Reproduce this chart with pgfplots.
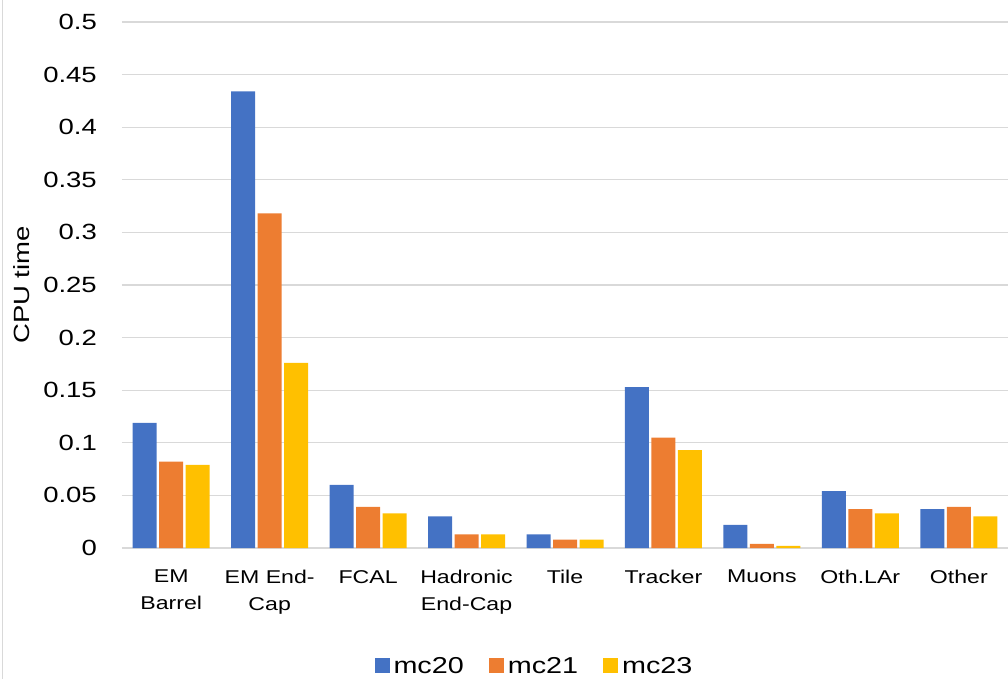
\documentclass[border=0pt]{standalone}
\usepackage{fontspec}
\setmainfont{Liberation Sans}[FakeStretch=1.25]
\usepackage{pgfplots}
\usepackage{pgfplotstable}
\pgfplotsset{compat=1.18}
\definecolor{cBlue}{HTML}{4472C4}
\definecolor{cOrange}{HTML}{ED7D31}
\definecolor{cYellow}{HTML}{FFC000}
\definecolor{cGrid}{HTML}{D9D9D9}
\pgfplotstableread{
x mcA mcB mcC
0 0.119 0.082 0.079
1 0.434 0.318 0.176
2 0.060 0.039 0.033
3 0.030 0.013 0.013
4 0.013 0.008 0.008
5 0.153 0.105 0.093
6 0.022 0.004 0.002
7 0.054 0.037 0.033
8 0.037 0.039 0.030
}\datatable
\begin{document}
\begin{tikzpicture}
\path[use as bounding box] (-122pt,-131pt) rectangle (886pt,548pt);
\draw[color=cGrid, line width=1.2pt] (-119.5pt,-131pt) -- (-119.5pt,548pt);
\begin{axis}[
  at={(0pt,0pt)}, anchor=south west,
  scale only axis, width=886pt, height=526pt,
  xmin=-0.5, xmax=8.5, ymin=0, ymax=0.5,
  axis lines*=left,
  y axis line style={draw=none},
  x axis line style={color=cGrid, line width=1.5pt},
  major tick length=0pt,
  ymajorgrids, grid style={color=cGrid, line width=1.3pt},
  ytick={0,0.05,0.1,0.15,0.2,0.25,0.3,0.35,0.4,0.45,0.5},
  yticklabels={0,0.05,0.1,0.15,0.2,0.25,0.3,0.35,0.4,0.45,0.5},
  xtick={0,1,2,3,4,5,6,7,8},
  xticklabels={EM\\Barrel,EM End-\\Cap,FCAL,Hadronic\\End-Cap,Tile,Tracker,Muons,Oth.LAr,Other},
  yticklabel style={font=\fontsize{22}{26}\selectfont, anchor=east, inner sep=0pt, xshift=-25pt},
  xticklabel style={font=\fontsize{18.5}{27}\selectfont, align=center, anchor=north, inner sep=0pt, yshift=-22pt},
  ylabel={CPU time},
  ylabel style={font=\fontsize{22}{26}\selectfont, at={(axis description cs:-0.1129,0.5)}, anchor=center, rotate=0},
  ybar=2.5pt, bar width=24pt,
  legend image code/.code={\fill[#1] (0pt,-7pt) rectangle (15pt,8pt);},
  legend style={draw=none, fill=none, at={(axis description cs:0.465,-0.224)}, anchor=center,
    legend columns=-1, font=\fontsize{23}{26}\selectfont,
    /tikz/every even column/.append style={column sep=24pt},
    /tikz/every odd column/.append style={column sep=3pt},
    nodes={inner sep=1pt}},
]
\addplot[draw=none, fill=cBlue] table[x=x, y=mcA] {\datatable};
\addplot[draw=none, fill=cOrange] table[x=x, y=mcB] {\datatable};
\addplot[draw=none, fill=cYellow] table[x=x, y=mcC] {\datatable};
\legend{mc20,mc21,mc23}
\end{axis}
\end{tikzpicture}
\end{document}
